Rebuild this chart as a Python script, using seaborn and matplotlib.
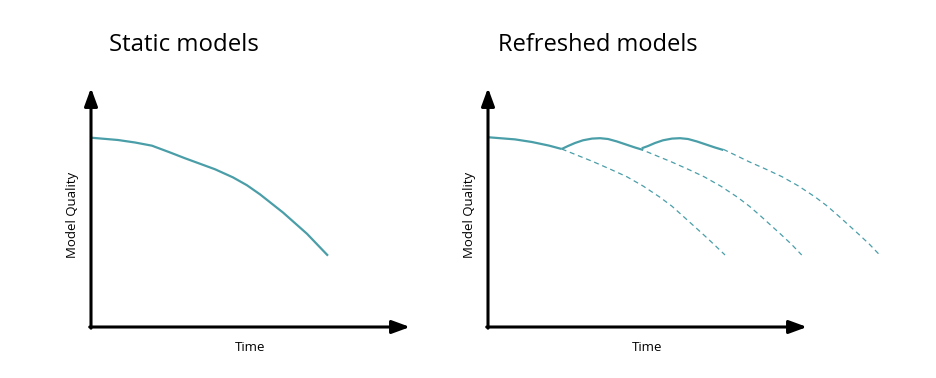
import matplotlib
matplotlib.use("Agg")
import matplotlib.pyplot as plt
import seaborn as sns

# ---------------- data ----------------
titles = ["Static models", "Refreshed models"]
x_label = "Time"
y_label = "Model Quality"

static_x = [0, 8.46, 13.79, 19.12, 24.76, 29.47, 34.17, 38.87, 44.51, 48.90, 52.98, 60.19, 67.71, 74.29]
static_y = [79.21, 78.24, 77.20, 75.86, 73.04, 70.60, 68.30, 66.00, 62.60, 59.30, 55.50, 47.90, 39.00, 29.83]

# refreshed models: solid path (model currently in use)
solid0_x = [0, 8.46, 13.79, 19.12, 23.10]
solid0_y = [79.40, 78.50, 77.40, 75.90, 74.48]
bump1_x = [23.10, 25.08, 27.27, 29.78, 32.60, 35.11, 37.62, 40.44, 43.26, 46.08, 48.68]
bump1_y = [74.48, 75.73, 76.99, 78.12, 78.83, 79.00, 78.66, 77.62, 76.36, 75.10, 74.06]
bump2_x = [48.18, 50.16, 52.35, 54.86, 57.68, 60.19, 62.70, 65.52, 68.34, 71.16, 73.76]
bump2_y = [74.77, 75.73, 76.99, 78.12, 78.83, 79.00, 78.66, 77.62, 76.36, 75.10, 74.06]

# refreshed models: dashed (decay if not refreshed)
dash1_x = [23.10, 33.0, 38.2, 43.5, 48.6, 53.9, 57.7, 61.2, 67.5, 70.8, 74.3]
dash1_y = [74.48, 69.16, 66.11, 62.89, 59.00, 54.30, 50.50, 46.30, 38.70, 34.60, 30.13]
dash2_x = [49.75, 57.37, 62.54, 67.71, 72.88, 78.21, 81.97, 85.58, 91.85, 95.14, 98.34]
dash2_y = [73.35, 69.16, 66.11, 62.89, 59.00, 54.30, 50.50, 46.30, 38.70, 34.60, 30.13]
dash3_x = [73.76, 81.82, 86.99, 92.16, 97.34, 102.66, 106.43, 110.03, 116.30, 119.59, 122.79]
dash3_y = [74.35, 69.16, 66.11, 62.89, 59.00, 54.30, 50.50, 46.30, 38.70, 34.60, 30.13]

# ---------------- styling ----------------
sns.set_theme(style="white")
plt.rcParams["font.family"] = ["Open Sans", "DejaVu Sans"]
plt.rcParams["text.color"] = "black"

TEAL = "#4a9ea8"
W, H = 937, 378
fig = plt.figure(figsize=(W / 100, H / 100), dpi=100)


def px_axes(x0, y0, x1, y1):
    # pixel box (left, bottom-y, right, top-y) -> figure fraction
    return [x0 / W, (H - y0) / H, (x1 - x0) / W, (y0 - y1) / H]


ax_left = fig.add_axes(px_axes(91, 327, 410, 88))
ax_right = fig.add_axes(px_axes(488, 327, 807, 88))


def draw_frame(ax):
    ax.set_xlim(0, 100)
    ax.set_ylim(0, 100)
    ax.axis("off")
    ap = dict(arrowstyle="-|>,head_length=0.6,head_width=0.22", lw=2.2,
              color="black", mutation_scale=18, shrinkA=0, shrinkB=0)
    ax.annotate("", xy=(100, 0), xytext=(-0.4, 0), arrowprops=ap,
                annotation_clip=False)
    ax.annotate("", xy=(0, 100), xytext=(0, -0.5), arrowprops=ap,
                annotation_clip=False)
    ax.text(0.5, -0.085, x_label, transform=ax.transAxes, ha="center",
            va="center", fontsize=9.5, color="black")
    ax.text(-0.057, 0.47, y_label, transform=ax.transAxes, ha="center",
            va="center", rotation=90, fontsize=9.5, color="black")


def solid(ax, xs, ys):
    sns.lineplot(x=xs, y=ys, ax=ax, color=TEAL, lw=1.6, clip_on=False,
                 solid_capstyle="butt", solid_joinstyle="round")


def dashed(ax, xs, ys):
    sns.lineplot(x=xs, y=ys, ax=ax, color=TEAL, lw=0.9, clip_on=False,
                 linestyle=(0, (4, 3)))


draw_frame(ax_left)
draw_frame(ax_right)

solid(ax_left, static_x, static_y)

dashed(ax_right, dash1_x, dash1_y)
dashed(ax_right, dash2_x, dash2_y)
dashed(ax_right, dash3_x, dash3_y)
solid(ax_right, solid0_x, solid0_y)
solid(ax_right, bump1_x, bump1_y)
solid(ax_right, bump2_x, bump2_y)

fig.text(109 / W, 1 - 51 / H, titles[0], ha="left", va="baseline",
         fontsize=17.3, color="black")
fig.text(498 / W, 1 - 51 / H, titles[1], ha="left", va="baseline",
         fontsize=17.0, color="black")

fig.savefig("out.png", dpi=100)
